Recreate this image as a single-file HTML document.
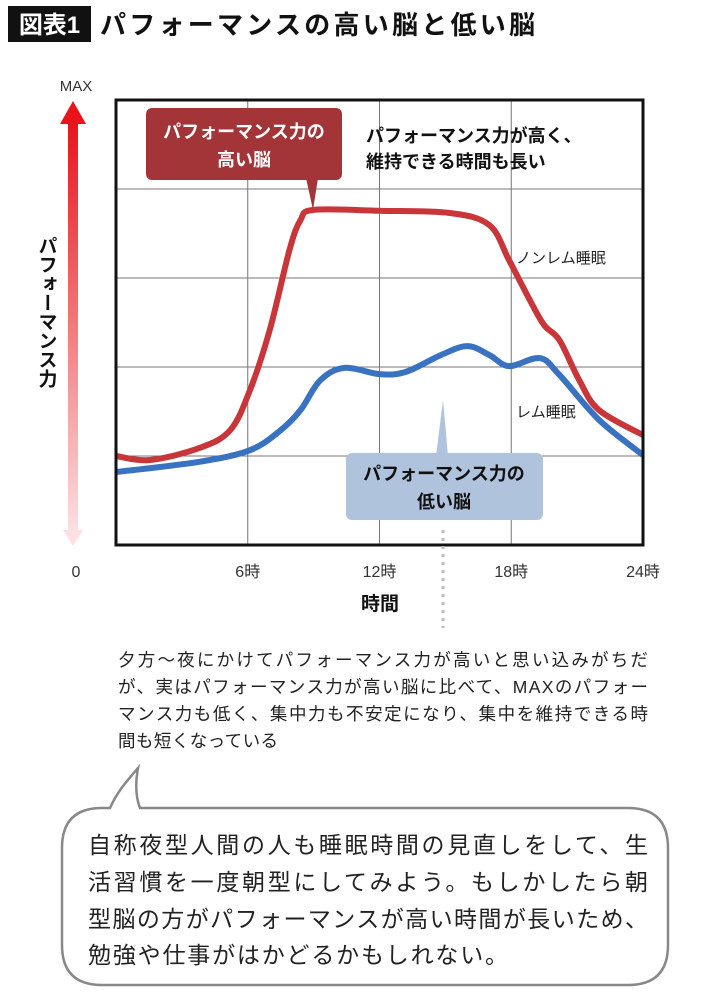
<!DOCTYPE html>
<html><head><meta charset="utf-8"><style>
html,body{margin:0;padding:0;background:#fff;}
svg{display:block;font-family:"Liberation Sans","Noto Sans CJK JP",sans-serif;}
</style></head><body>
<svg id="chart" width="710" height="1003" viewBox="0 0 710 1003" xmlns="http://www.w3.org/2000/svg">
<defs>
<linearGradient id="ag" x1="0" y1="0" x2="0" y2="1">
<stop offset="0" stop-color="#e8141a"/><stop offset="1" stop-color="#fbe1e2"/>
</linearGradient>
</defs>
<rect x="8" y="6" width="83" height="36" fill="#111"/>
<text x="49.5" y="33" font-size="24" font-weight="bold" fill="#fff" text-anchor="middle">図表1</text>
<text x="100" y="34" font-size="26" font-weight="bold" fill="#111" textLength="435">パフォーマンスの高い脳と低い脳</text>

<g>
<polygon points="73,101 86,124 60,124" fill="#e8141a"/>
<rect x="68" y="122" width="10" height="412" fill="url(#ag)"/>
<polygon points="63,530 83,530 73,546" fill="#fbe1e2"/>
</g>
<text x="76" y="91" font-size="15" fill="#333" text-anchor="middle">MAX</text>
<text x="76" y="577" font-size="16" fill="#333" text-anchor="middle">0</text>
<text x="46" y="236" font-size="19" font-weight="bold" fill="#111" writing-mode="tb" glyph-orientation-vertical="0">パフォーマンス力</text>

<g id="grid"></g>
<g id="series"></g>
<rect x="116" y="100" width="527" height="445" fill="none" stroke="#111" stroke-width="3"/>
<g id="xticks"></g>
<text x="380" y="610" font-size="19" font-weight="bold" fill="#111" text-anchor="middle">時間</text>

<text x="516" y="263" font-size="15" fill="#222">ノンレム睡眠</text>
<text x="516" y="417" font-size="15" fill="#222">レム睡眠</text>

<g>
<rect x="146" y="108" width="196" height="72" rx="6" fill="#a33538"/>
<polygon points="306,178 318,178 313,210" fill="#a33538"/>
<text x="244" y="138" font-size="18" font-weight="bold" fill="#fff" text-anchor="middle">パフォーマンス力の</text>
<text x="244" y="166" font-size="18" font-weight="bold" fill="#fff" text-anchor="middle">高い脳</text>
</g>
<text x="366" y="142" font-size="18" font-weight="bold" fill="#111">パフォーマンス力が高く、</text>
<text x="366" y="168" font-size="18" font-weight="bold" fill="#111">維持できる時間も長い</text>

<g>
<polygon points="443,400 448,456 436,456" fill="#b0c3dd"/>
<rect x="346" y="453" width="197" height="67" rx="6" fill="#b0c3dd"/>
<text x="444" y="480" font-size="18" font-weight="bold" fill="#111" text-anchor="middle">パフォーマンス力の</text>
<text x="444" y="508" font-size="18" font-weight="bold" fill="#111" text-anchor="middle">低い脳</text>
</g>
<line x1="443" y1="530" x2="443" y2="628" stroke="#bbb" stroke-width="3" stroke-dasharray="3,5"/>

<g font-size="17.5" fill="#222">
<text x="118" y="666" textLength="530">夕方～夜にかけてパフォーマンス力が高いと思い込みがちだ</text>
<text x="118" y="693" textLength="530">が、実はパフォーマンス力が高い脳に比べて、MAXのパフォー</text>
<text x="118" y="720" textLength="530">マンス力も低く、集中力も不安定になり、集中を維持できる時</text>
<text x="118" y="747" textLength="160">間も短くなっている</text>
</g>

<path d="M110,808 C118,790 128,780 138,768 C135,785 136,798 140,808 L628,808 Q668,808 668,848 L668,945 Q668,985 628,985 L102,985 Q62,985 62,945 L62,848 Q62,808 102,808 Z" fill="#fff" stroke="#888" stroke-width="2.5"/>
<g font-size="23" fill="#222">
<text x="88" y="853" textLength="560">自称夜型人間の人も睡眠時間の見直しをして、生</text>
<text x="88" y="890" textLength="560">活習慣を一度朝型にしてみよう。もしかしたら朝</text>
<text x="88" y="927" textLength="560">型脳の方がパフォーマンスが高い時間が長いため、</text>
<text x="88" y="963" textLength="420">勉強や仕事がはかどるかもしれない。</text>
</g>
</svg>
<script>
const hours = [0, 1.55, 3.8, 5.2, 6.1, 7.0, 7.9, 8.4, 9.0, 12.0, 15.2, 17.0, 17.9, 18.85, 19.5, 20.2, 21.1, 22.0, 24];
const nonremValues = [20, 19.1, 21.8, 25.8, 34.8, 48.3, 66.3, 73, 75.3, 75.1, 74.6, 71.9, 64, 55, 49.4, 46, 37, 30.3, 24.7];
const remHours = [0, 3.8, 6.1, 7.5, 8.4, 9.3, 10.4, 12.0, 13.2, 14.8, 16.0, 17.0, 17.9, 19.3, 20.2, 22.0, 24];
const remValues = [16.4, 18.7, 21.3, 25.8, 30.3, 37, 39.8, 38.4, 38.9, 42.7, 44.7, 42.7, 40.2, 42, 38.2, 28.1, 20.2];
const xTickHours = [6, 12, 18, 24];
const xTickLabels = ["6時", "12時", "18時", "24時"];
const yGridValues = [20, 40, 60, 80];

const X0 = 116, X1 = 643, Y0 = 545, Y1 = 100;
const xs = h => X0 + h / 24 * (X1 - X0);
const ys = v => Y0 - v / 100 * (Y0 - Y1);
const NS = "http://www.w3.org/2000/svg";

const grid = document.getElementById('grid');
xTickHours.slice(0, 3).forEach(h => {
  const l = document.createElementNS(NS, 'line');
  l.setAttribute('x1', xs(h)); l.setAttribute('x2', xs(h));
  l.setAttribute('y1', Y1); l.setAttribute('y2', Y0);
  l.setAttribute('stroke', '#777'); l.setAttribute('stroke-width', '1');
  
  
  grid.appendChild(l);
});
yGridValues.forEach(v => {
  const l = document.createElementNS(NS, 'line');
  l.setAttribute('x1', X0); l.setAttribute('x2', X1);
  l.setAttribute('y1', ys(v)); l.setAttribute('y2', ys(v));
  l.setAttribute('stroke', '#777'); l.setAttribute('stroke-width', '1');
  
  
  grid.appendChild(l);
});

function smooth(hh, vv) {
  const p = hh.map((h, i) => [xs(h), ys(vv[i])]);
  let d = 'M' + p[0][0] + ',' + p[0][1];
  for (let i = 0; i < p.length - 1; i++) {
    const a = p[i - 1] || p[i], b = p[i], c = p[i + 1], e = p[i + 2] || c;
    const c1 = [b[0] + (c[0] - a[0]) / 6, b[1] + (c[1] - a[1]) / 6];
    const c2 = [c[0] - (e[0] - b[0]) / 6, c[1] - (e[1] - b[1]) / 6];
    d += ' C' + c1 + ' ' + c2 + ' ' + c;
  }
  return d;
}
const series = document.getElementById('series');
const red = document.createElementNS(NS, 'path');
red.setAttribute('d', smooth(hours, nonremValues));
red.setAttribute('fill', 'none'); red.setAttribute('stroke', '#c8363a');
red.setAttribute('stroke-width', '6'); red.setAttribute('stroke-linejoin', 'round');


series.appendChild(red);
const blue = document.createElementNS(NS, 'path');
blue.setAttribute('d', smooth(remHours, remValues));
blue.setAttribute('fill', 'none'); blue.setAttribute('stroke', '#3a72c2');
blue.setAttribute('stroke-width', '6'); blue.setAttribute('stroke-linejoin', 'round');


series.appendChild(blue);

const xt = document.getElementById('xticks');
xTickHours.forEach((h, i) => {
  const t = document.createElementNS(NS, 'text');
  t.setAttribute('x', xs(h)); t.setAttribute('y', 577);
  t.setAttribute('font-size', '16'); t.setAttribute('fill', '#333');
  t.setAttribute('text-anchor', 'middle');
  t.textContent = xTickLabels[i];
  
  
  xt.appendChild(t);
});
</script>
</body></html>
